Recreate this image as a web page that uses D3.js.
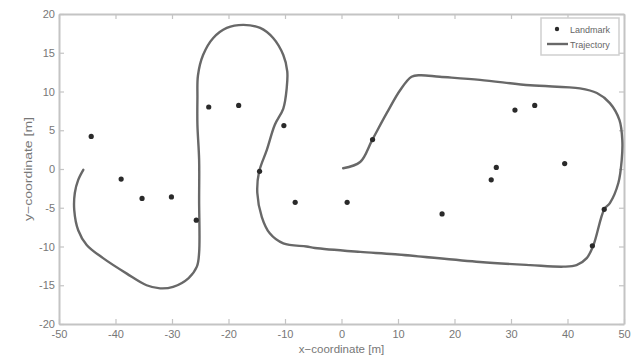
<!DOCTYPE html>
<html>
<head>
<meta charset="UTF-8">
<title>Landmarks and trajectory</title>
<style>
  body { margin: 0; background: #fff; }
  svg { display: block; font-family: "Liberation Sans", Arial, sans-serif; }
  .tick text { fill: #777; font-size: 11px; }
  .axis-label { fill: #777; font-size: 11.5px; }
  .legend text { fill: #666; font-size: 9px; }
</style>
</head>
<body>
<svg id="chart" width="635" height="358"></svg>
<script src="https://cdnjs.cloudflare.com/ajax/libs/d3/7.8.5/d3.min.js"></script>
<script>
// landmark positions [m]
var landmarkX = [-44.3, -39.0, -35.3, -30.1, -25.7, -23.5, -18.2, -10.2, -14.5, -8.2,
                 1.0, 17.8, 5.5, 26.5, 27.4, 30.7, 34.2, 39.5, 46.5, 44.4];
var landmarkY = [4.2, -1.3, -3.8, -3.6, -6.6, 8.0, 8.2, 5.6, -0.3, -4.3,
                 -4.3, -5.8, 3.8, -1.4, 0.2, 7.6, 8.2, 0.7, -5.2, -9.9];

// trajectory, read along the path from the start at the origin
var trajX = [0.3, 3.3, 5.4, 8.0, 10.4, 12.4, 13.9, 17.4, 24.5, 33.4, 42.2, 45.2, 47.5, 49.2, 49.7,
             49.6, 49.0, 47.5, 46.5, 44.6, 43.4, 41.6, 39.3, 33.4, 24.5, 9.5, 3.3, -4.7, -6.2, -10.3,
             -12.7, -14.1, -14.9, -14.6, -13.2, -11.8, -10.3, -9.7, -9.6, -10.3, -12.1, -14.4, -17.4,
             -20.3, -22.7, -24.5, -25.4, -25.5, -25.5, -25.2, -25.2, -25.2, -25.6, -27.1, -29.8,
             -32.1, -34.5, -38.0, -42.2, -45.1, -46.6, -47.3, -47.2, -46.6, -45.7];
var trajY = [0.1, 0.9, 3.7, 7.2, 10.2, 11.9, 12.1, 11.9, 11.5, 10.8, 10.4, 9.8, 8.5, 6.3, 3.7,
             1.2, -1.8, -4.4, -5.2, -9.8, -11.5, -12.4, -12.6, -12.4, -12.0, -11.0, -10.7, -10.2, -10.0, -9.6,
             -8.3, -6.2, -3.1, -0.4, 2.5, 5.7, 7.8, 10.4, 12.6, 14.7, 16.9, 18.2, 18.6,
             18.2, 16.9, 14.7, 12.1, 9.1, 5.7, 1.2, -4.0, -10.8, -12.6, -14.1, -15.2,
             -15.4, -15.0, -13.5, -11.5, -9.8, -7.9, -5.3, -3.1, -1.4, -0.1];

var xTicks = [-50, -40, -30, -20, -10, 0, 10, 20, 30, 40, 50];
var yTicks = [-20, -15, -10, -5, 0, 5, 10, 15, 20];

var margin = {top: 14, right: 11, bottom: 34, left: 59};
var width = 635 - margin.left - margin.right,
    height = 358 - margin.top - margin.bottom;

var svg = d3.select('#chart');
var g = svg.append('g').attr('transform', 'translate(' + margin.left + ',' + margin.top + ')');

var x = d3.scaleLinear().domain([-50, 50]).range([0, width]);
var y = d3.scaleLinear().domain([-20, 20]).range([height, 0]);

var axisColor = '#c4c4c4';
var fmt = function(d) { return String(d); };   // plain hyphen minus like the original

// axes box with inward ticks on all sides (matlab style)
function styleAxis(sel) {
  sel.select('.domain').attr('stroke', axisColor).attr('stroke-width', 2);
  sel.selectAll('.tick line').attr('stroke', axisColor).attr('stroke-width', 1.2);
}

g.append('g').attr('transform', 'translate(0,' + height + ')')
  .call(d3.axisBottom(x).tickValues(xTicks).tickFormat(fmt).tickSizeInner(-5).tickSizeOuter(0).tickPadding(6))
  .call(styleAxis);
g.append('g')
  .call(d3.axisTop(x).tickValues(xTicks).tickSizeInner(-5).tickSizeOuter(0).tickFormat(''))
  .call(styleAxis);
g.append('g')
  .call(d3.axisLeft(y).tickValues(yTicks).tickFormat(fmt).tickSizeInner(-5).tickSizeOuter(0).tickPadding(4))
  .call(styleAxis);
g.append('g').attr('transform', 'translate(' + width + ',0)')
  .call(d3.axisRight(y).tickValues(yTicks).tickSizeInner(-5).tickSizeOuter(0).tickFormat(''))
  .call(styleAxis);

g.selectAll('.tick text').attr('font-family', null).attr('font-size', null);

// trajectory
var pts = trajX.map(function(d, i) { return [d, trajY[i]]; });
var line = d3.line()
  .x(function(d) { return x(d[0]); })
  .y(function(d) { return y(d[1]); })
  .curve(d3.curveCatmullRom.alpha(0.5));

g.append('path')
  .datum(pts)
  .attr('d', line)
  .attr('fill', 'none')
  .attr('stroke', '#686868')
  .attr('stroke-width', 2.4)
  .attr('stroke-linecap', 'round');

// landmarks
g.selectAll('.landmark')
  .data(landmarkX.map(function(d, i) { return [d, landmarkY[i]]; }))
  .enter().append('circle')
  .attr('class', 'landmark')
  .attr('cx', function(d) { return x(d[0]); })
  .attr('cy', function(d) { return y(d[1]); })
  .attr('r', 2.6)
  .attr('fill', '#2a2a2a');

// axis labels
svg.append('text')
  .attr('class', 'axis-label')
  .attr('x', margin.left + width / 2)
  .attr('y', 353)
  .attr('text-anchor', 'middle')
  .text('x\u2212coordinate [m]');

svg.append('text')
  .attr('class', 'axis-label')
  .attr('transform', 'translate(32,' + (margin.top + height / 2) + ') rotate(-90)')
  .attr('text-anchor', 'middle')
  .attr('textLength', 104)
  .attr('lengthAdjust', 'spacingAndGlyphs')
  .text('y\u2212coordinate [m]');

// legend
var legend = svg.append('g').attr('class', 'legend').attr('transform', 'translate(541,18)');
legend.append('rect')
  .attr('width', 78).attr('height', 37)
  .attr('fill', '#fff').attr('stroke', '#cfcfcf').attr('stroke-width', 1.5);
legend.append('circle').attr('cx', 16).attr('cy', 11).attr('r', 2.2).attr('fill', '#2a2a2a');
legend.append('text').attr('x', 29).attr('y', 14.5).text('Landmark');
legend.append('line')
  .attr('x1', 6).attr('x2', 27).attr('y1', 26).attr('y2', 26)
  .attr('stroke', '#686868').attr('stroke-width', 2.4);
legend.append('text').attr('x', 29).attr('y', 29.5).text('Trajectory');
</script>
</body>
</html>
